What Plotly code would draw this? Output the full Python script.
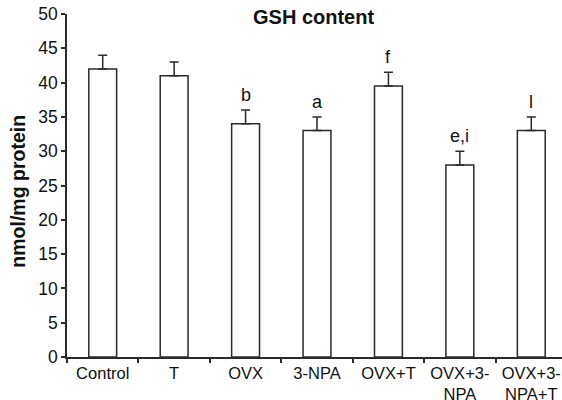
import plotly.graph_objects as go

categories = ["Control", "T", "OVX", "3-NPA", "OVX+T", "OVX+3-<br>NPA", "OVX+3-<br>NPA+T"]
gsh_values = [42, 41, 34, 33, 39.5, 28, 33]
gsh_errors = [2, 2, 2, 2, 2, 2, 2]
sig_labels = ["", "", "b", "a", "f", "e,i", "l"]
y_ticks = [0, 5, 10, 15, 20, 25, 30, 35, 40, 45, 50]

LINE = "#2a2a2a"
FONT = "Liberation Sans, Arial, Helvetica, sans-serif"

fig = go.Figure()
fig.add_trace(go.Bar(
    x=categories, y=gsh_values, width=0.39,
    marker=dict(color="white", line=dict(color=LINE, width=1.5)),
    error_y=dict(type="data", array=gsh_errors, arrayminus=[0]*len(gsh_errors),
                 symmetric=False, color=LINE, thickness=1.5, width=4.5),
    showlegend=False,
))

annotations = []
for c, v, e, s in zip(categories, gsh_values, gsh_errors, sig_labels):
    if s:
        annotations.append(dict(x=c, y=v + e, xref="x", yref="y", text=s,
                                showarrow=False, yanchor="bottom", yshift=3,
                                font=dict(size=18, color="#111", family=FONT)))
annotations.append(dict(x=0.497, y=0.992, xref="paper", yref="paper",
                        text="<b>GSH content</b>", showarrow=False,
                        xanchor="center", yanchor="middle",
                        font=dict(size=20, color="#111", family=FONT)))
annotations.append(dict(x=-0.099, y=0.485, xref="paper", yref="paper",
                        text="<b>nmol/mg protein</b>", showarrow=False, textangle=-90,
                        xanchor="center", yanchor="middle",
                        font=dict(size=19.5, color="#111", family=FONT)))

fig.update_layout(
    width=562, height=400,
    margin=dict(l=67, r=0, t=14, b=43),
    paper_bgcolor="white", plot_bgcolor="white",
    font=dict(family=FONT, color="#111"),
    annotations=annotations,
    bargap=0.61,
)
fig.update_xaxes(
    type="category", range=[-0.5, 6.43], automargin=False,
    showline=True, linecolor=LINE, linewidth=1.5,
    ticks="outside", tickson="boundaries", ticklen=4, tickcolor=LINE, tickwidth=1.5,
    showgrid=False, zeroline=False,
    tickfont=dict(size=16.5, family=FONT, color="#111"),
)
fig.update_yaxes(
    range=[0, 50], tickvals=y_ticks, automargin=False,
    showline=True, linecolor=LINE, linewidth=1.5,
    ticks="outside", ticklen=4, tickcolor=LINE, tickwidth=1.5,
    showgrid=False, zeroline=False,
    tickfont=dict(size=17.5, family=FONT, color="#111"),
)

# remove the browser's default 8px page margin so the figure sits at the window origin
fig.write_html("out.html", config={"displayModeBar": False},
               post_script="document.body.style.margin='0';")
